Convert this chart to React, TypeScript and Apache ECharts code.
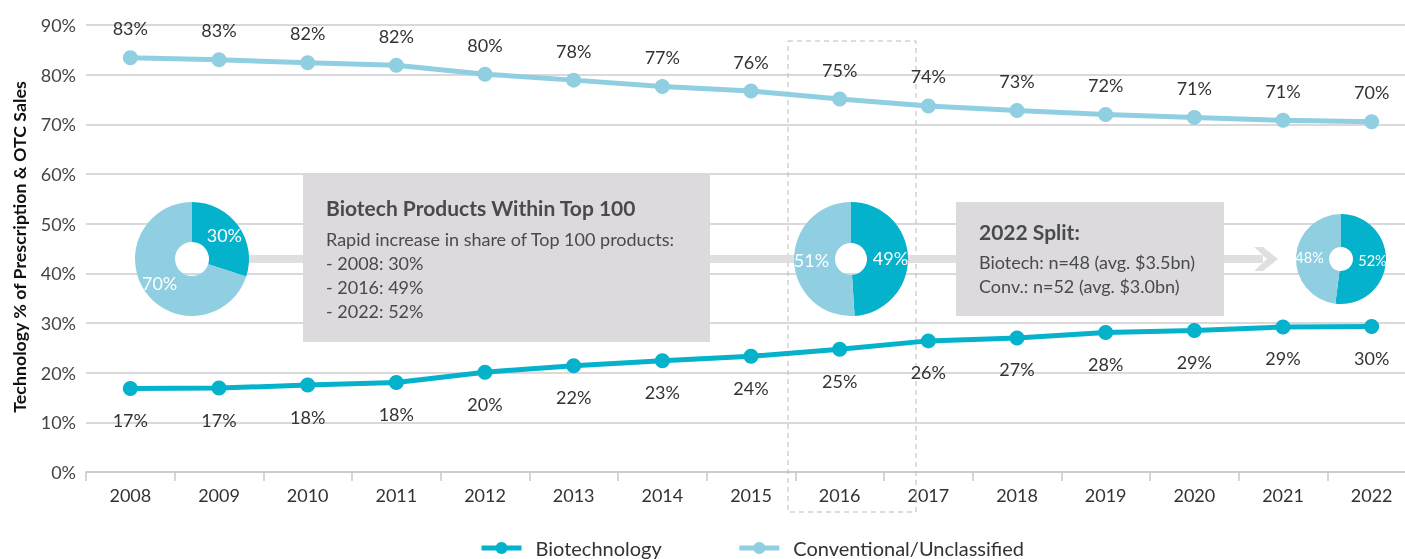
import React, { useEffect, useRef } from "react";
import * as echarts from "echarts";

const years = ["2008", "2009", "2010", "2011", "2012", "2013", "2014", "2015", "2016", "2017", "2018", "2019", "2020", "2021", "2022"];
const biotech = [16.8, 16.9, 17.5, 18.0, 20.1, 21.4, 22.4, 23.3, 24.7, 26.4, 27.0, 28.1, 28.5, 29.2, 29.3];
const conventional = [83.4, 83.0, 82.4, 81.9, 80.1, 78.9, 77.6, 76.7, 75.1, 73.7, 72.8, 72.0, 71.4, 70.8, 70.5];
const biotechLabels = ["17%", "17%", "18%", "18%", "20%", "22%", "23%", "24%", "25%", "26%", "27%", "28%", "29%", "29%", "30%"];
const convLabels = ["83%", "83%", "82%", "82%", "80%", "78%", "77%", "76%", "75%", "74%", "73%", "72%", "71%", "71%", "70%"];
const pie2008 = [30, 70];
const pie2016 = [49, 51];
const pie2022 = [52, 48];
const yTicks = [0, 10, 20, 30, 40, 50, 60, 70, 80, 90];

const DARK = "#05b2cc";
const LIGHT = "#8fcfe1";
const FONT = "Lato";
const TEXT = "#333333";
const BOX = "#dcdadc";
const BAND = "#dfdfdf";
const BOXTEXT = "#4a494e";

export default function App() {
  const ref = useRef<HTMLDivElement>(null);
  useEffect(() => {
    if (!ref.current) return;
    const chart = echarts.init(ref.current, undefined, { renderer: "svg" });
    const pieSeries = (data: number[], center: number[], radius: number[], fs: number) => ({
      type: "pie",
      center,
      radius,
      startAngle: 90,
      clockwise: true,
      z: 4,
      silent: true,
      label: {
        show: true,
        position: "inside",
        color: "#ffffff",
        fontSize: fs,
        fontFamily: FONT,
        formatter: (p: any) => p.value + "%",
      },
      labelLine: { show: false },
      emphasis: { disabled: true },
      data: [
        { value: data[0], name: "b", itemStyle: { color: DARK } },
        { value: data[1], name: "c", itemStyle: { color: LIGHT } },
      ],
    });
    const boxText = (x: number, y: number, text: string, font: string) => ({
      type: "text",
      x,
      y,
      z: 11,
      style: { text, font, fill: BOXTEXT, verticalAlign: "middle" },
    });
    chart.setOption({
      animation: false,
      textStyle: { fontFamily: FONT },
      grid: { left: 86, right: 5, top: 25, height: 447, containLabel: false },
      legend: {
        left: 479,
        top: 537,
        padding: 0,
        itemWidth: 40,
        itemHeight: 15,
        itemGap: 75,
        lineStyle: { width: 5 },
        textStyle: { fontSize: 20, lineHeight: 22, color: TEXT, fontFamily: FONT, padding: [0, 0, 0, 9] },
        data: ["Biotechnology", "Conventional/Unclassified"],
      },
      xAxis: {
        type: "category",
        data: years,
        boundaryGap: true,
        axisLine: { lineStyle: { color: "#c8c8c8", width: 1.5 } },
        axisTick: { show: true, length: 9, lineStyle: { color: "#c8c8c8", width: 1.5 } },
        axisLabel: { color: TEXT, fontSize: 18, margin: 14, fontFamily: FONT },
      },
      yAxis: {
        type: "value",
        min: 0,
        max: 90,
        interval: 10,
        axisLine: { show: false },
        axisTick: { show: false },
        axisLabel: { color: "#444", fontSize: 18, margin: 10, fontFamily: FONT, formatter: (v: number) => (yTicks.includes(v) ? v + "%" : "") },
        splitLine: { lineStyle: { color: "#cccccc", width: 1.5 } },
      },
      graphic: [
        {
          type: "rect",
          z: 1,
          shape: { x: 788, y: 41, width: 128, height: 471 },
          style: { fill: "none", stroke: "#bbbbbb", lineWidth: 1, lineDash: [5, 4] },
        },
        { type: "rect", z: 1, shape: { x: 248, y: 255, width: 550, height: 8 }, style: { fill: BAND } },
        { type: "rect", z: 1, shape: { x: 905, y: 255, width: 358, height: 8 }, style: { fill: BAND } },
        {
          type: "polygon",
          z: 1,
          shape: { points: [[1254, 247], [1263, 247], [1278, 259], [1263, 271], [1254, 271], [1267, 259]] },
          style: { fill: BAND },
        },
        { type: "rect", z: 10, shape: { x: 303, y: 175, width: 407, height: 167 }, style: { fill: BOX } },
        boxText(326, 207, "Biotech Products Within Top 100", `bold 21px ${FONT}`),
        boxText(326, 239, "Rapid increase in share of Top 100 products:", `18px ${FONT}`),
        boxText(326, 263, "- 2008: 30%", `18px ${FONT}`),
        boxText(326, 287, "- 2016: 49%", `18px ${FONT}`),
        boxText(326, 311, "- 2022: 52%", `18px ${FONT}`),
        { type: "rect", z: 10, shape: { x: 956, y: 202, width: 268, height: 114 }, style: { fill: BOX } },
        boxText(979, 231, "2022 Split:", `bold 21px ${FONT}`),
        boxText(979, 262, "Biotech: n=48 (avg. $3.5bn)", `18px ${FONT}`),
        boxText(979, 286, "Conv.: n=52 (avg. $3.0bn)", `18px ${FONT}`),
        {
          type: "text",
          x: 19,
          y: 247,
          rotation: Math.PI / 2,
          z: 10,
          style: {
            text: "Technology % of Prescription & OTC Sales",
            font: `bold 17.8px ${FONT}`,
            fill: "#111111",
            align: "center",
            verticalAlign: "middle",
          },
        },
      ],
      series: [
        {
          name: "Biotechnology",
          type: "line",
          data: biotech,
          symbol: "circle",
          symbolSize: 15,
          z: 5,
          color: DARK,
          lineStyle: { width: 5, color: DARK },
          itemStyle: { color: DARK },
          label: {
            show: true,
            position: "bottom",
            distance: 15,
            color: TEXT,
            fontSize: 18,
            fontFamily: FONT,
            formatter: (p: any) => biotechLabels[p.dataIndex],
          },
        },
        {
          name: "Conventional/Unclassified",
          type: "line",
          data: conventional,
          symbol: "circle",
          symbolSize: 15,
          z: 5,
          color: LIGHT,
          lineStyle: { width: 5, color: LIGHT },
          itemStyle: { color: LIGHT },
          label: {
            show: true,
            position: "top",
            distance: 13,
            color: TEXT,
            fontSize: 18,
            fontFamily: FONT,
            formatter: (p: any) => convLabels[p.dataIndex],
          },
        },
        pieSeries(pie2008, [192, 259], [17, 57], 18),
        pieSeries(pie2016, [851, 259], [16, 57], 18),
        pieSeries(pie2022, [1341, 259], [12, 45], 14.5),
      ],
    });
    return () => chart.dispose();
  }, []);
  return <div ref={ref} style={{ position: "fixed", left: 0, top: 0, width: 1421, height: 559 }} />;
}
